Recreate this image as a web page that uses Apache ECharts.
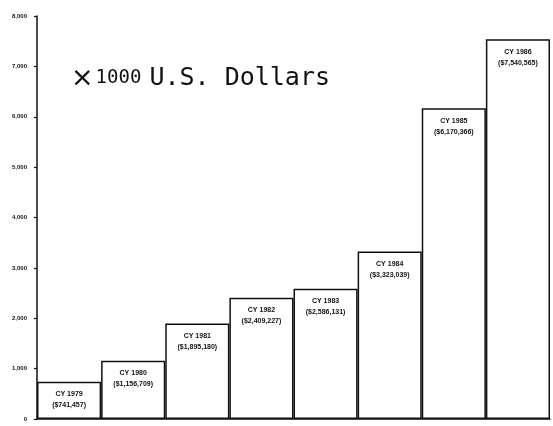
<!DOCTYPE html>
<html>
<head>
<meta charset="utf-8">
<script src="https://cdn.jsdelivr.net/npm/echarts@6/dist/echarts.min.js"></script>
<style>html,body{margin:0;padding:0;background:#fff;}#c{width:553px;height:426px;}</style>
</head>
<body>
<div id="c"></div>
<script>
const categories = ['CY 1979','CY 1980','CY 1981','CY 1982','CY 1983','CY 1984','CY 1985','CY 1986'];
const amountLabels = ['($741,457)','($1,156,709)','($1,895,180)','($2,409,227)','($2,586,131)','($3,323,039)','($6,170,366)','($7,540,565)'];
const values = [741.457, 1156.709, 1895.180, 2409.227, 2586.131, 3323.039, 6170.366, 7540.565];
const yTicks = ['0','1,000','2,000','3,000','4,000','5,000','6,000','7,000','8,000'];

const chart = echarts.init(document.getElementById('c'), null, {renderer:'canvas'});
chart.setOption({
  backgroundColor:'#ffffff',
  animation:false,
  title:{
    text:'{m|×}{x|1000}{u|U.S. Dollars}',
    left:66, top:60,
    textStyle:{
      fontWeight:'normal',
      rich:{
        m:{fontFamily:'DejaVu Sans', fontWeight:'normal', fontSize:27, color:'#111', padding:[0,2,0,0]},
        x:{fontFamily:'DejaVu Sans Mono', fontWeight:'normal', fontSize:19, color:'#111', padding:[0,8,0,0]},
        u:{fontFamily:'DejaVu Sans Mono', fontWeight:'normal', fontSize:25, color:'#111'}
      }
    }
  },
  grid:{left:37, right:3, top:16, bottom:7, containLabel:false},
  xAxis:{
    type:'category',
    data:categories,
    axisLine:{show:true, lineStyle:{color:'#111', width:1.5}},
    axisTick:{show:false},
    axisLabel:{show:false},
    splitLine:{show:false}
  },
  yAxis:{
    type:'value',
    min:0, max:8000, interval:1000,
    axisLine:{show:true, lineStyle:{color:'#111', width:1.5}},
    axisTick:{show:true, length:3, lineStyle:{color:'#111', width:1.2}},
    axisLabel:{
      margin:10,
      fontFamily:'Liberation Sans', fontWeight:'bold', fontSize:6, color:'#111',
      formatter:function(v){ return yTicks[Math.round(v/1000)]; }
    },
    splitLine:{show:false}
  },
  series:[{
    type:'bar',
    data:values,
    barWidth:'100%',
    barCategoryGap:'0%',
    itemStyle:{color:'#ffffff', borderColor:'#111', borderWidth:1.5},
    label:{
      show:true,
      position:'insideTop',
      distance:7,
      formatter:function(p){ return '{a|'+categories[p.dataIndex]+'}\n{b|'+amountLabels[p.dataIndex]+'}'; },
      rich:{
        a:{fontFamily:'Liberation Sans', fontWeight:'bold', fontSize:7, color:'#111', lineHeight:11, align:'center'},
        b:{fontFamily:'Liberation Sans', fontWeight:'bold', fontSize:7, color:'#111', lineHeight:11, align:'center'}
      }
    }
  }]
});
</script>
</body>
</html>
